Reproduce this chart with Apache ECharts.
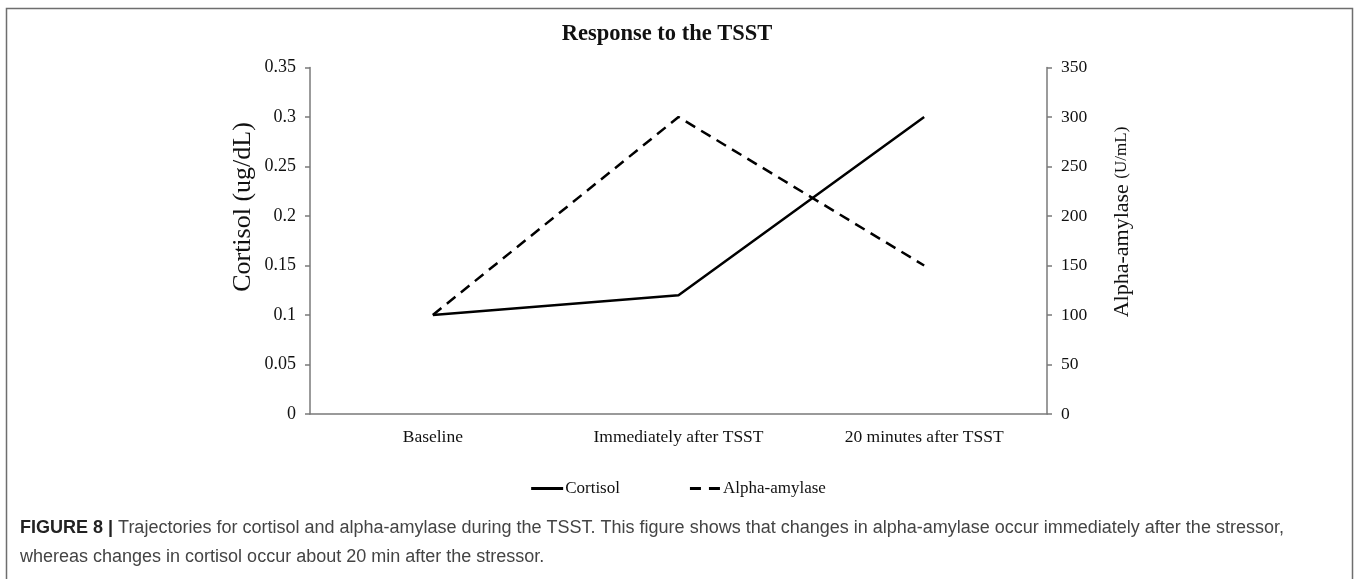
<!DOCTYPE html>
<html>
<head>
<meta charset="utf-8">
<script src="https://cdn.jsdelivr.net/npm/echarts@6/dist/echarts.min.js"></script>
<style>
html, body { margin: 0; padding: 0; background: #fff; }
#container { width: 1357px; height: 579px; }
</style>
</head>
<body>
<div id="container"></div>
<script>
var dom = document.getElementById("container");
var myChart = echarts.init(dom);

// data
var categories = ['Baseline', 'Immediately after TSST', '20 minutes after TSST'];
var cortisol = [0.1, 0.12, 0.3];
var amylase = [100, 300, 150];
var cortisolTicks = { min: 0, max: 0.35, interval: 0.05 };
var amylaseTicks = { min: 0, max: 350, interval: 50 };

var serif = '"Liberation Serif", "Times New Roman", serif';
var sans = '"Liberation Sans", Arial, sans-serif';
var axisGray = '#7a7a7a';

var option = {
	animation: false,
	backgroundColor: '#fff',
	title: {
		text: 'Response to the TSST',
		left: 662,
		top: 18,
		textAlign: 'center',
		textStyle: { fontFamily: serif, fontSize: 22.5, fontWeight: 'bold', color: '#111' }
	},
	legend: {
		top: 475,
		left: 'center',
		itemWidth: 32,
		itemHeight: 3,
		itemGap: 70,
		textStyle: { fontFamily: serif, fontSize: 17, color: '#111', padding: [0, 0, 0, -3] },
		data: [
			{ name: 'Cortisol', icon: 'path://M0,0H32V3H0Z' },
			{ name: 'Alpha-amylase', icon: 'path://M0,0H11V3H0Z M19,0H30V3H19Z' }
		],
		itemStyle: { color: '#000' }
	},
	grid: {
		left: 310,
		right: 310,
		top: 67.5,
		bottom: 165,
		containLabel: false
	},
	xAxis: {
		type: 'category',
		data: categories,
		boundaryGap: true,
		axisLine: { lineStyle: { color: axisGray, width: 1.5 } },
		axisTick: { show: false },
		axisLabel: { fontFamily: serif, fontSize: 17.5, color: '#111', margin: 14 },
		splitLine: { show: false }
	},
	yAxis: [{
		type: 'value',
		min: cortisolTicks.min,
		max: cortisolTicks.max,
		interval: cortisolTicks.interval,
		axisLine: { show: true, lineStyle: { color: axisGray, width: 1.5 } },
		axisTick: { show: true, length: 5, lineStyle: { color: axisGray, width: 1.5 } },
		axisLabel: {
			fontFamily: serif, fontSize: 18, color: '#111', margin: 14,
			formatter: function (v) { return String(parseFloat(v.toFixed(2))); }
		},
		splitLine: { show: false }
	}, {
		type: 'value',
		position: 'right',
		min: amylaseTicks.min,
		max: amylaseTicks.max,
		interval: amylaseTicks.interval,
		axisLine: { show: true, lineStyle: { color: axisGray, width: 1.5 } },
		axisTick: { show: true, length: 5, lineStyle: { color: axisGray, width: 1.5 } },
		axisLabel: { fontFamily: serif, fontSize: 17.5, color: '#111', margin: 14 },
		splitLine: { show: false }
	}],
	graphic: [{
		type: 'rect',
		shape: { x: 6.5, y: 8.5, width: 1346, height: 600 },
		style: { fill: 'none', stroke: '#6e6e6e', lineWidth: 1.5 },
		silent: true
	}, {
		type: 'text',
		x: 243,
		y: 207,
		rotation: Math.PI / 2,
		style: {
			text: 'Cortisol (ug/dL)',
			font: '26px ' + serif,
			fill: '#111',
			align: 'center',
			verticalAlign: 'middle'
		}
	}, {
		type: 'text',
		x: 1122,
		y: 222,
		rotation: Math.PI / 2,
		style: {
			text: 'Alpha-amylase {s|(U/mL)}',
			font: '22px ' + serif,
			fill: '#111',
			align: 'center',
			verticalAlign: 'middle',
			rich: { s: { fontFamily: serif, fontSize: 17, fill: '#111' } }
		}
	}, {
		type: 'text',
		x: 20,
		y: 528,
		style: {
			text: '{b|FIGURE 8 |} Trajectories for cortisol and alpha-amylase during the TSST. This figure shows that changes in alpha-amylase occur immediately after the stressor,',
			font: '18px ' + sans,
			fill: '#444',
			verticalAlign: 'middle',
			rich: { b: { fontFamily: sans, fontSize: 18, fontWeight: 'bold', fill: '#222' } }
		}
	}, {
		type: 'text',
		x: 20,
		y: 557,
		style: {
			text: 'whereas changes in cortisol occur about 20 min after the stressor.',
			font: '18px ' + sans,
			fill: '#444',
			verticalAlign: 'middle'
		}
	}],
	series: [{
		name: 'Cortisol',
		type: 'line',
		yAxisIndex: 0,
		data: cortisol,
		symbol: 'none',
		color: '#000',
		lineStyle: { color: '#000', width: 2.5, type: 'solid' }
	}, {
		name: 'Alpha-amylase',
		type: 'line',
		yAxisIndex: 1,
		data: amylase,
		symbol: 'none',
		color: '#000',
		lineStyle: { color: '#000', width: 2.5, type: [11, 7] }
	}]
};

if (option && typeof option === "object") {
	myChart.setOption(option, true);
}
</script>
</body>
</html>
